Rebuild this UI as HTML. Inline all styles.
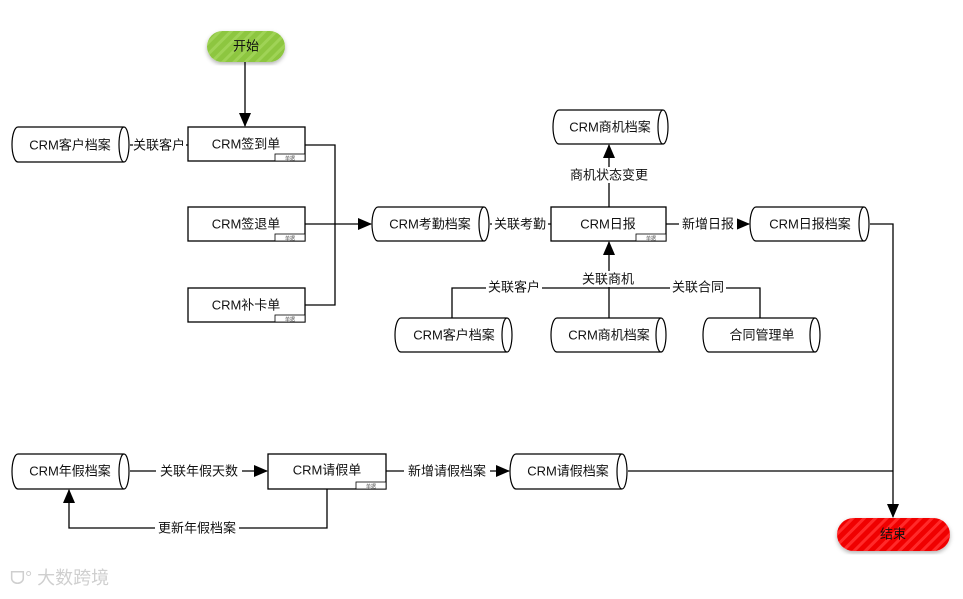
<!DOCTYPE html>
<html><head><meta charset="utf-8"><style>
body{margin:0;background:#fff;}
svg text{font-family:"Liberation Sans","Noto Sans CJK SC",sans-serif;}
</style></head><body>
<svg width="963" height="594" viewBox="0 0 963 594" xmlns="http://www.w3.org/2000/svg">
<defs>
<marker id="a" markerWidth="14" markerHeight="12" refX="13" refY="6" orient="auto" markerUnits="userSpaceOnUse"><path d="M0,0 L14,6 L0,12 Z" fill="#000"/></marker>
<pattern id="gs" width="8" height="8" patternUnits="userSpaceOnUse" patternTransform="rotate(45)"><rect width="8" height="8" fill="#8dc63f"/><rect width="3" height="8" fill="#9fd356"/></pattern>
<pattern id="rs" width="8" height="8" patternUnits="userSpaceOnUse" patternTransform="rotate(45)"><rect width="8" height="8" fill="#f00000"/><rect width="3" height="8" fill="#ff2a2a"/></pattern>
<filter id="sh"><feDropShadow dx="0" dy="2" stdDeviation="2" flood-opacity="0.3"/></filter>
</defs>
<g fill="none" stroke="#000" stroke-width="1.3">
<line x1="245" y1="62" x2="245" y2="126" marker-end="url(#a)"/>
<line x1="130" y1="145" x2="188" y2="145"/>
<polyline points="305,145 335,145 335,305 305,305"/>
<line x1="305" y1="224" x2="371" y2="224" marker-end="url(#a)"/>
<line x1="490" y1="224" x2="551" y2="224"/>
<line x1="609" y1="207" x2="609" y2="145" marker-end="url(#a)"/>
<line x1="666" y1="224" x2="749" y2="224" marker-end="url(#a)"/>
<polyline points="870,224 893,224 893,517" marker-end="url(#a)"/>
<polyline points="452,318 452,288 760,288 760,318"/>
<line x1="609" y1="318" x2="609" y2="242" marker-end="url(#a)"/>
<line x1="130" y1="471" x2="267" y2="471" marker-end="url(#a)"/>
<line x1="386" y1="471" x2="509" y2="471" marker-end="url(#a)"/>
<line x1="628" y1="471" x2="893" y2="471"/>
<polyline points="327,489 327,528 69,528 69,490" marker-end="url(#a)"/>
<rect x="188" y="127" width="117" height="34" fill="#fff"/>
<rect x="188" y="207" width="117" height="34" fill="#fff"/>
<rect x="188" y="288" width="117" height="34" fill="#fff"/>
<rect x="551" y="207" width="115" height="34" fill="#fff"/>
<rect x="268" y="454" width="118" height="35" fill="#fff"/>
</g>
<g fill="#fff" stroke="#000" stroke-width="0.8">
<rect x="275" y="154" width="30" height="7"/>
<rect x="275" y="234" width="30" height="7"/>
<rect x="275" y="315" width="30" height="7"/>
<rect x="636" y="234" width="30" height="7"/>
<rect x="356" y="482" width="30" height="7"/>
</g>
<g font-size="5" fill="#555" text-anchor="middle">
<text x="290" y="160">单据</text><text x="290" y="240">单据</text><text x="290" y="321">单据</text><text x="651" y="240">单据</text><text x="371" y="488">单据</text>
</g>
<g fill="#fff" stroke="#000" stroke-width="1.2">
<path d="M18,127 L124,127 A5,17.5 0 0 1 124,162 L18,162 A6,17.5 0 0 1 18,127 Z M124,127 A5,17.5 0 0 0 124,162"/>
<path d="M378,207 L484,207 A5,17 0 0 1 484,241 L378,241 A6,17 0 0 1 378,207 Z M484,207 A5,17 0 0 0 484,241"/>
<path d="M559,110 L663,110 A5,17 0 0 1 663,144 L559,144 A6,17 0 0 1 559,110 Z M663,110 A5,17 0 0 0 663,144"/>
<path d="M756,207 L864,207 A5,17 0 0 1 864,241 L756,241 A6,17 0 0 1 756,207 Z M864,207 A5,17 0 0 0 864,241"/>
<path d="M401,318 L507,318 A5,17 0 0 1 507,352 L401,352 A6,17 0 0 1 401,318 Z M507,318 A5,17 0 0 0 507,352"/>
<path d="M557,318 L661,318 A5,17 0 0 1 661,352 L557,352 A6,17 0 0 1 557,318 Z M661,318 A5,17 0 0 0 661,352"/>
<path d="M709,318 L815,318 A5,17 0 0 1 815,352 L709,352 A6,17 0 0 1 709,318 Z M815,318 A5,17 0 0 0 815,352"/>
<path d="M18,454 L124,454 A5,17.5 0 0 1 124,489 L18,489 A6,17.5 0 0 1 18,454 Z M124,454 A5,17.5 0 0 0 124,489"/>
<path d="M516,454 L622,454 A5,17.5 0 0 1 622,489 L516,489 A6,17.5 0 0 1 516,454 Z M622,454 A5,17.5 0 0 0 622,489"/>
</g>
<rect x="207" y="31" width="78" height="31" rx="15.5" fill="url(#gs)" filter="url(#sh)"/>
<rect x="837" y="518" width="113" height="33" rx="16.5" fill="url(#rs)" filter="url(#sh)"/>
<g font-size="13" fill="#111" text-anchor="middle" dominant-baseline="central">
<text x="246" y="46">开始</text>
<text x="893" y="534">结束</text>
<text x="70" y="145">CRM客户档案</text>
<text x="246" y="144">CRM签到单</text>
<text x="246" y="224">CRM签退单</text>
<text x="246" y="305">CRM补卡单</text>
<text x="430" y="224">CRM考勤档案</text>
<text x="608" y="224">CRM日报</text>
<text x="610" y="127">CRM商机档案</text>
<text x="810" y="224">CRM日报档案</text>
<text x="454" y="335">CRM客户档案</text>
<text x="609" y="335">CRM商机档案</text>
<text x="762" y="335">合同管理单</text>
<text x="70" y="471">CRM年假档案</text>
<text x="327" y="470">CRM请假单</text>
<text x="568" y="471">CRM请假档案</text>
</g>
<g font-size="13" fill="#111" text-anchor="middle" dominant-baseline="central">
<rect x="133" y="137" width="53" height="16" fill="#fff"/><text x="159" y="145">关联客户</text>
<rect x="492" y="216" width="56" height="16" fill="#fff"/><text x="520" y="224">关联考勤</text>
<rect x="566" y="167" width="86" height="16" fill="#fff"/><text x="609" y="175">商机状态变更</text>
<rect x="679" y="216" width="58" height="16" fill="#fff"/><text x="708" y="224">新增日报</text>
<rect x="486" y="280" width="56" height="16" fill="#fff"/><text x="514" y="287">关联客户</text>
<rect x="579" y="271" width="58" height="16" fill="#fff"/><text x="608" y="279">关联商机</text>
<rect x="670" y="280" width="56" height="16" fill="#fff"/><text x="698" y="287">关联合同</text>
<rect x="156" y="463" width="86" height="16" fill="#fff"/><text x="199" y="471">关联年假天数</text>
<rect x="404" y="463" width="86" height="16" fill="#fff"/><text x="447" y="471">新增请假档案</text>
<rect x="155" y="520" width="84" height="16" fill="#fff"/><text x="197" y="528">更新年假档案</text>
</g>
<text x="10" y="584" font-size="18" fill="#cfcfcf" font-family="Liberation Sans,Noto Sans CJK SC,sans-serif">ᗜ° 大数跨境</text>
</svg>
</body></html>
